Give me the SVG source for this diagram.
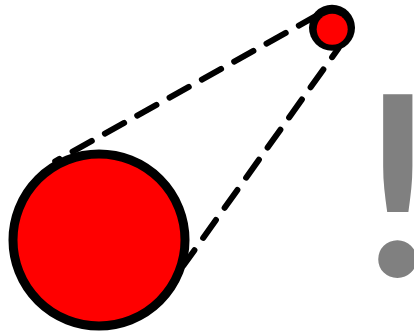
<svg xmlns="http://www.w3.org/2000/svg" width="414" height="334" viewBox="0 0 414 334">
  <style>
    .dash { fill: none; stroke: #000; stroke-width: 6; stroke-linecap: round; stroke-dasharray: 22 15; }
    .ball { fill: #ff0000; stroke: #000; }
    .mark { font-family: Lato, "Liberation Sans", sans-serif; font-weight: 700; fill: #808080; }
  </style>
  <rect width="414" height="334" fill="#fff"/>
  <g id="connectors">
    <line class="dash" x1="55.2" y1="161.3" x2="317.4" y2="15.2" stroke-dashoffset="17.1"/>
    <line class="dash" x1="183.4" y1="265.6" x2="338.5" y2="48.2" stroke-dashoffset="3"/>
  </g>
  <g id="big-circle">
    <circle class="ball" cx="99" cy="240" r="86" stroke-width="9"/>
  </g>
  <g id="small-circle">
    <circle cx="332" cy="27.8" r="23" fill="#000"/>
    <circle cx="332.2" cy="29.3" r="15.5" fill="#ff0000"/>
  </g>
  <g id="exclamation">
    <text class="mark" x="397.6" y="276" font-size="252" text-anchor="middle">!</text>
  </g>
</svg>
